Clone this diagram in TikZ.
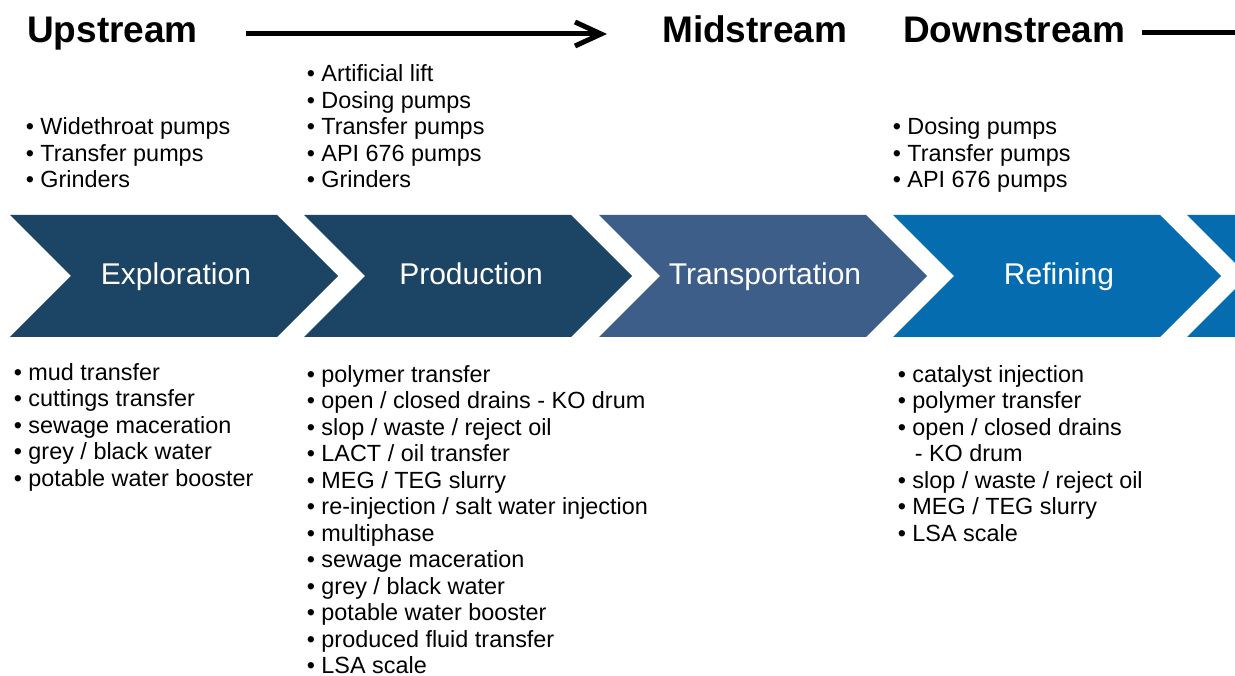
\documentclass[tikz,border=0pt]{standalone}
\usepackage{fontspec}
\setmainfont{Liberation Sans}
\usetikzlibrary{arrows.meta}

\definecolor{navy}{HTML}{1B4465}
\definecolor{slate}{HTML}{3D5E89}
\definecolor{ocean}{HTML}{066CB0}

\tikzset{
  head/.style={font=\fontsize{37}{44}\selectfont\bfseries, anchor=base west, inner sep=0pt},
  stagetext/.style={font=\fontsize{30}{36}\selectfont, text=white, anchor=base, inner sep=0pt},
  items/.style={font=\fontsize{23.4}{26.5}\selectfont, align=left, anchor=base west, inner sep=0pt},
  flow/.style={line width=5pt, -{Straight Barb[length=26pt, width=24pt]}},
}

\begin{document}
\begin{tikzpicture}[x=1pt,y=-1pt]
					\useasboundingbox (0,0) rectangle (1235,676);

					% Headings and flow line.
					\node[head] (up) at (27,43) {Upstream};
					\node[head] (mid) at (662,43) {Midstream};
					\node[head] (down) at (903,43) {Downstream};
					\coordinate (a) at (246,34);
					\coordinate (b) at (607,34);
					\coordinate (c) at (1142,33);
					\coordinate (d) at (1245,33);
					\draw[flow] (a) -- (b);
					\draw[line width=5pt] (c) -- (d);

					% Chevrons.
					\fill[navy] (10,215) -- ++(267,0) -- ++(61,61) -- ++(-61,61) -- ++(-267,0) -- ++(61,-61) -- cycle;
					\fill[navy] (304,215) -- ++(267,0) -- ++(61,61) -- ++(-61,61) -- ++(-267,0) -- ++(61,-61) -- cycle;
					\fill[slate] (599,215) -- ++(267,0) -- ++(61,61) -- ++(-61,61) -- ++(-267,0) -- ++(61,-61) -- cycle;
					\fill[ocean] (893,215) -- ++(267,0) -- ++(61,61) -- ++(-61,61) -- ++(-267,0) -- ++(61,-61) -- cycle;
					\fill[ocean] (1187,215) -- ++(267,0) -- ++(61,61) -- ++(-61,61) -- ++(-267,0) -- ++(61,-61) -- cycle;

					\node[stagetext] (expl) at (176,285) {Exploration};
					\node[stagetext] (prod) at (471,285) {Production};
					\node[stagetext] (trans) at (765,285) {Transportation};
					\node[stagetext] (ref) at (1059,285) {Refining};

					% Equipment above the chevrons (placed at the last baseline).
					\node[items] (explup) at (25.6,188) {\textbullet\ Widethroat pumps\\ \textbullet\ Transfer pumps\\ \textbullet\ Grinders};
					\node[items] (produp) at (306.6,188) {\textbullet\ Artificial lift\\ \textbullet\ Dosing pumps\\ \textbullet\ Transfer pumps\\ \textbullet\ API 676 pumps\\ \textbullet\ Grinders};
					\node[items] (refup) at (892.6,188) {\textbullet\ Dosing pumps\\ \textbullet\ Transfer pumps\\ \textbullet\ API 676 pumps};

					% Applications below the chevrons.
					\node[items] (expldown) at (13.6,486) {\textbullet\ mud transfer\\ \textbullet\ cuttings transfer\\ \textbullet\ sewage maceration\\ \textbullet\ grey / black water\\ \textbullet\ potable water booster};
					\node[items] (proddown) at (306.6,673.5) {\textbullet\ polymer transfer\\ \textbullet\ open / closed drains - KO drum\\ \textbullet\ slop / waste / reject oil\\ \textbullet\ LACT / oil transfer\\ \textbullet\ MEG / TEG slurry\\ \textbullet\ re-injection / salt water injection\\ \textbullet\ multiphase\\ \textbullet\ sewage maceration\\ \textbullet\ grey / black water\\ \textbullet\ potable water booster\\ \textbullet\ produced fluid transfer\\ \textbullet\ LSA scale};
					\node[items] (refdown) at (897.6,541) {\textbullet\ catalyst injection\\ \textbullet\ polymer transfer\\ \textbullet\ open / closed drains\\ \hspace*{17pt}- KO drum\\ \textbullet\ slop / waste / reject oil\\ \textbullet\ MEG / TEG slurry\\ \textbullet\ LSA scale};
				\end{tikzpicture}
\end{document}
